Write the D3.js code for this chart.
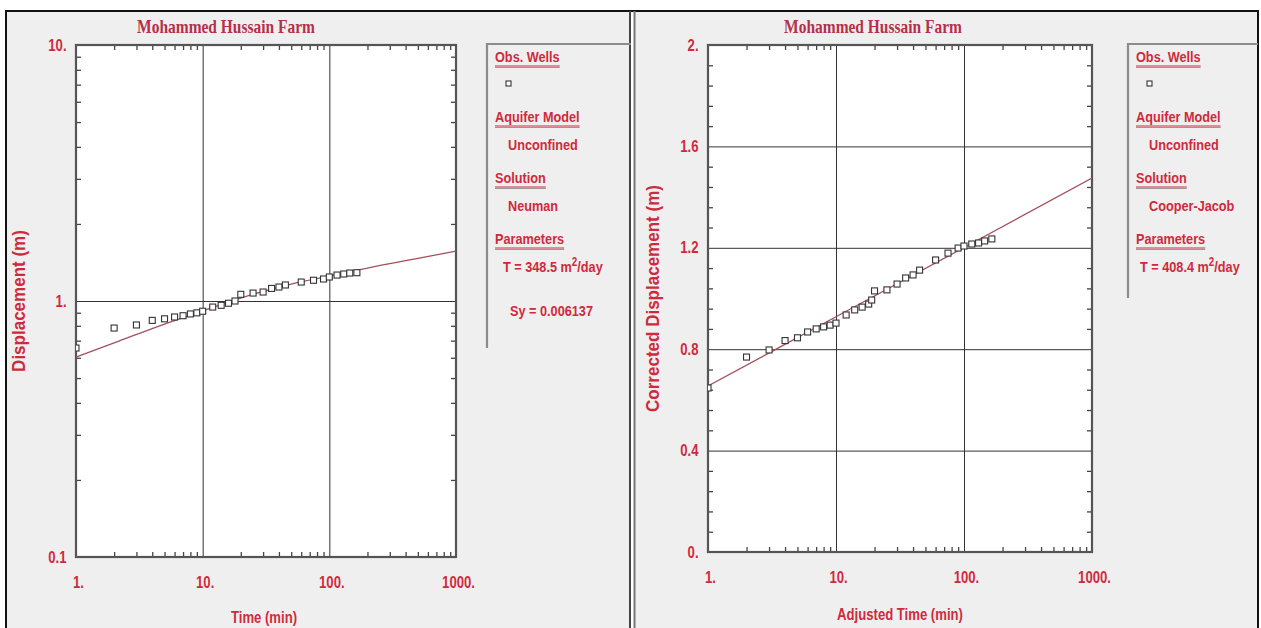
<!DOCTYPE html>
<html>
<head>
<meta charset="utf-8">
<script src="https://cdn.jsdelivr.net/npm/d3@7"></script>
<style>
body { margin: 0; background: #fff; }
text { font-family: "Liberation Sans", Arial, sans-serif; font-weight: bold; fill: #cf2a3c; }
.title { font-family: "Liberation Serif", "Times New Roman", serif; font-size: 18px; fill: #b5304a; }
</style>
</head>
<body>
<svg id="svg" width="1261" height="628"></svg>
<script>
// ---- data ----
var timeTicks = [1, 10, 100, 1000];
var timeTickLabels = ["1.", "10.", "100.", "1000."];
var dispTicks = [0.1, 1, 10];
var dispTickLabels = ["0.1", "1.", "10."];
var corrTicks = [0, 0.4, 0.8, 1.2, 1.6, 2];
var corrTickLabels = ["0.", "0.4", "0.8", "1.2", "1.6", "2."];

// left: Neuman, log-log
var obsTime = [1, 2, 3, 4, 5, 6, 7, 8, 9, 10, 12, 14, 16, 18, 20, 25, 30, 35, 40, 45, 60, 75, 90, 100, 115, 130, 145, 165];
var obsDisp = [0.655, 0.784, 0.806, 0.840, 0.852, 0.866, 0.876, 0.890, 0.899, 0.912, 0.947, 0.962, 0.980, 1.0, 1.062, 1.074, 1.084, 1.12, 1.134, 1.155, 1.186, 1.205, 1.219, 1.241, 1.263, 1.275, 1.286, 1.29];
var neumanTime = [1, 2, 5, 10, 20, 50, 100, 200, 500, 1000];
var neumanDisp = [0.604, 0.686, 0.813, 0.914, 1.027, 1.165, 1.252, 1.345, 1.466, 1.567];

// right: Cooper-Jacob, semi-log
var adjTime = [1, 2, 3, 4, 5, 6, 7, 8, 9, 10, 12, 14, 16, 18, 19, 20, 25, 30, 35, 40, 45, 60, 75, 90, 100, 115, 130, 145, 165];
var corrDisp = [0.647, 0.769, 0.797, 0.834, 0.845, 0.868, 0.880, 0.888, 0.895, 0.903, 0.935, 0.955, 0.966, 0.978, 0.994, 1.030, 1.034, 1.057, 1.081, 1.093, 1.112, 1.152, 1.179, 1.199, 1.207, 1.215, 1.219, 1.227, 1.235];
var jacobTime = [1, 10, 100, 1000];
var jacobDisp = [0.655, 0.928, 1.201, 1.475];

var leftLegend = [
  {head: "Obs. Wells", marker: true},
  {head: "Aquifer Model", lines: ["Unconfined"]},
  {head: "Solution", lines: ["Neuman"]},
  {head: "Parameters", params: [["T   = 348.5 m", "2", "/day"], ["Sy = 0.006137"]]}
];
var rightLegend = [
  {head: "Obs. Wells", marker: true},
  {head: "Aquifer Model", lines: ["Unconfined"]},
  {head: "Solution", lines: ["Cooper-Jacob"]},
  {head: "Parameters", params: [["T = 408.4 m", "2", "/day"]]}
];

var NARROW = 0.82; // squeeze to mimic Arial Narrow

var svg = d3.select("#svg");

// panel backgrounds + borders
svg.append("rect").attr("x", 5).attr("y", 10).attr("width", 626).attr("height", 630).attr("fill", "#efefef");
svg.append("rect").attr("x", 634).attr("y", 10).attr("width", 624).attr("height", 630).attr("fill", "#efefef");
svg.append("path").attr("d", "M6,640V11H1258V640").attr("fill", "none").attr("stroke", "#111").attr("stroke-width", 2);
svg.append("line").attr("x1", 630).attr("x2", 630).attr("y1", 11).attr("y2", 628).attr("stroke", "#444").attr("stroke-width", 2);
svg.append("line").attr("x1", 634.5).attr("x2", 634.5).attr("y1", 11).attr("y2", 628).attr("stroke", "#777").attr("stroke-width", 2);

function range(a, b, step) { var r = []; for (var v = a; v <= b + 1e-9; v += step) r.push(+v.toFixed(4)); return r; }

var logMinor = [];
[1, 10, 100].forEach(function(d) { for (var k = 2; k <= 9; k++) logMinor.push(d * k); });
var logMinorY = [];
[0.1, 1].forEach(function(d) { for (var k = 2; k <= 9; k++) logMinorY.push(+(d * k).toFixed(3)); });
var linMinorY = range(0, 2, 0.08).filter(function(v) { return Math.abs(v / 0.4 - Math.round(v / 0.4)) > 1e-6; });

// narrow text placed at x,y
function ntext(g, x, y, size, str, extra, squeeze) {
  return g.append("text").attr("font-size", size).attr("text-anchor", "middle")
    .attr("transform", "translate(" + x + "," + y + ")" + (extra || "") + " scale(" + (squeeze || NARROW) + ",1)")
    .text(str);
}

function drawPanel(o) {
  var g = svg.append("g");
  var x = o.x, y = o.y;
  var x0 = x.range()[0], x1 = x.range()[1], yb = y.range()[0], yt = y.range()[1];
  var w = x1 - x0, h = yb - yt;

  g.append("rect").attr("x", x0).attr("y", yt).attr("width", w).attr("height", h).attr("fill", "#fff");

  // grid
  g.append("g").attr("transform", "translate(0," + yb + ")")
    .call(d3.axisBottom(x).tickValues(o.gridX).tickSize(-h).tickFormat(""))
    .call(function(s) { s.select(".domain").remove(); s.selectAll("line").attr("stroke", "#333"); });
  g.append("g").attr("transform", "translate(" + x0 + ",0)")
    .call(d3.axisLeft(y).tickValues(o.gridY).tickSize(-w).tickFormat(""))
    .call(function(s) { s.select(".domain").remove(); s.selectAll("line").attr("stroke", "#333"); });

  // minor ticks, inward on all four sides
  function minor(axis, tr) {
    g.append("g").attr("transform", tr).call(axis.tickSize(-5).tickFormat(""))
      .call(function(s) { s.select(".domain").remove(); s.selectAll("line").attr("stroke", "#444").attr("stroke-width", 1.3); });
  }
  minor(d3.axisBottom(x).tickValues(logMinor), "translate(0," + yb + ")");
  minor(d3.axisTop(x).tickValues(logMinor), "translate(0," + yt + ")");
  minor(d3.axisLeft(y).tickValues(o.minorY), "translate(" + x0 + ",0)");
  minor(d3.axisRight(y).tickValues(o.minorY), "translate(" + x1 + ",0)");

  // frame
  g.append("rect").attr("x", x0).attr("y", yt).attr("width", w).attr("height", h)
    .attr("fill", "none").attr("stroke", "#555").attr("stroke-width", 2.2);

  // tick labels
  g.append("g").attr("transform", "translate(2," + (yb + 17) + ")")
    .call(d3.axisBottom(x).tickValues(timeTicks).tickSize(0)
      .tickFormat(function(d, i) { return timeTickLabels[i]; }))
    .call(function(s) {
      s.select(".domain").remove();
      s.selectAll("text").attr("font-size", 16).attr("fill", "#cf2a3c").attr("font-family", null)
        .attr("transform", "scale(" + NARROW + ",1)");
    });
  g.append("g").attr("transform", "translate(" + (x0 - 7) + ",0)")
    .call(d3.axisLeft(y).tickValues(o.yTicks).tickSize(0)
      .tickFormat(function(d, i) { return o.yTickLabels[i]; }))
    .call(function(s) {
      s.select(".domain").remove();
      s.selectAll("text").attr("font-size", 16).attr("fill", "#cf2a3c").attr("font-family", null)
        .attr("transform", "scale(" + NARROW + ",1)");
    });

  // axis titles
  ntext(g, o.xLabelX, o.xLabelY, 16, o.xLabel);
  ntext(g, o.yLabelX, yt + h / 2, 18.5, o.yLabel, " rotate(-90)", 0.92);
  g.append("text").attr("class", "title").attr("text-anchor", "middle")
    .attr("transform", "translate(" + o.titleX + ",33) scale(0.86,1)")
    .text("Mohammed Hussain Farm");

  // fitted curve
  var clip = "clip" + o.id;
  g.append("clipPath").attr("id", clip).append("rect").attr("x", x0).attr("y", yt).attr("width", w).attr("height", h);
  var line = d3.line().x(function(d) { return x(d[0]); }).y(function(d) { return y(d[1]); }).curve(d3.curveMonotoneX);
  g.append("path").datum(d3.zip(o.fitT, o.fitS)).attr("d", line)
    .attr("fill", "none").attr("stroke", "#a4505c").attr("stroke-width", 1.3).attr("clip-path", "url(#" + clip + ")");

  // observation squares
  g.append("g").attr("clip-path", "url(#" + clip + ")").selectAll("rect")
    .data(d3.zip(o.obsT, o.obsS)).enter().append("rect")
    .attr("x", function(d) { return x(d[0]) - 3; })
    .attr("y", function(d) { return y(d[1]) - 3; })
    .attr("width", 6).attr("height", 6)
    .attr("fill", "#fff").attr("stroke", "#333").attr("stroke-width", 1.1);

  // legend box
  var lx = o.legendX, lb = o.legendBottom;
  g.append("path").attr("d", "M" + lx + "," + lb + "V44H" + o.legendRight)
    .attr("fill", "none").attr("stroke", "#8c8c8c").attr("stroke-width", 2.2);
  var ly = 57;
  function ltext(xx, yy) {
    return g.append("text").attr("font-size", 15.5)
      .attr("transform", "translate(" + xx + "," + yy + ") scale(" + NARROW + ",1)");
  }
  o.legend.forEach(function(item) {
    var t = ltext(lx + 8, ly + 5).text(item.head);
    var tw = t.node().getComputedTextLength() * NARROW;
    g.append("line").attr("x1", lx + 8).attr("x2", lx + 8 + tw).attr("y1", ly + 9).attr("y2", ly + 9)
      .attr("stroke", "#cf2a3c").attr("stroke-width", 1);
    g.append("line").attr("x1", lx + 8).attr("x2", lx + 8 + tw).attr("y1", ly + 10.5).attr("y2", ly + 10.5)
      .attr("stroke", "#999").attr("stroke-width", 1);
    if (item.marker) {
      g.append("rect").attr("x", lx + 19).attr("y", ly + 24).attr("width", 5).attr("height", 5)
        .attr("fill", "#fff").attr("stroke", "#333").attr("stroke-width", 1.1);
      ly += 60;
    } else if (item.lines) {
      ltext(lx + 21, ly + 33).text(item.lines[0]);
      ly += 61;
    } else {
      item.params.forEach(function(p, i) {
        var pt = ltext(lx + o.paramIndent[i], ly + 33 + i * 44);
        pt.append("tspan").text(p[0]);
        if (p[1]) {
          pt.append("tspan").attr("dy", -6).attr("font-size", 12).text(p[1]);
          pt.append("tspan").attr("dy", 6).text(p[2]);
        }
      });
    }
  });
}

drawPanel({
  id: "L",
  x: d3.scaleLog().domain([1, 1000]).range([76, 456]),
  y: d3.scaleLog().domain([0.1, 10]).range([557, 45]),
  gridX: [10, 100], gridY: [1],
  minorY: logMinorY,
  yTicks: dispTicks, yTickLabels: dispTickLabels,
  xLabel: "Time (min)", xLabelX: 264, xLabelY: 623,
  yLabel: "Displacement (m)", yLabelX: 25,
  titleX: 226,
  fitT: neumanTime, fitS: neumanDisp,
  obsT: obsTime, obsS: obsDisp,
  legendX: 487, legendBottom: 348, legendRight: 631,
  legend: leftLegend, paramIndent: [16, 23]
});

drawPanel({
  id: "R",
  x: d3.scaleLog().domain([1, 1000]).range([708, 1092]),
  y: d3.scaleLinear().domain([0, 2]).range([552, 45]),
  gridX: [10, 100], gridY: [0.4, 0.8, 1.2, 1.6],
  minorY: linMinorY,
  yTicks: corrTicks, yTickLabels: corrTickLabels,
  xLabel: "Adjusted Time (min)", xLabelX: 900, xLabelY: 620,
  yLabel: "Corrected Displacement (m)", yLabelX: 659,
  titleX: 873,
  fitT: jacobTime, fitS: jacobDisp,
  obsT: adjTime, obsS: corrDisp,
  legendX: 1128, legendBottom: 298, legendRight: 1258,
  legend: rightLegend, paramIndent: [12, 12]
});
</script>
</body>
</html>
